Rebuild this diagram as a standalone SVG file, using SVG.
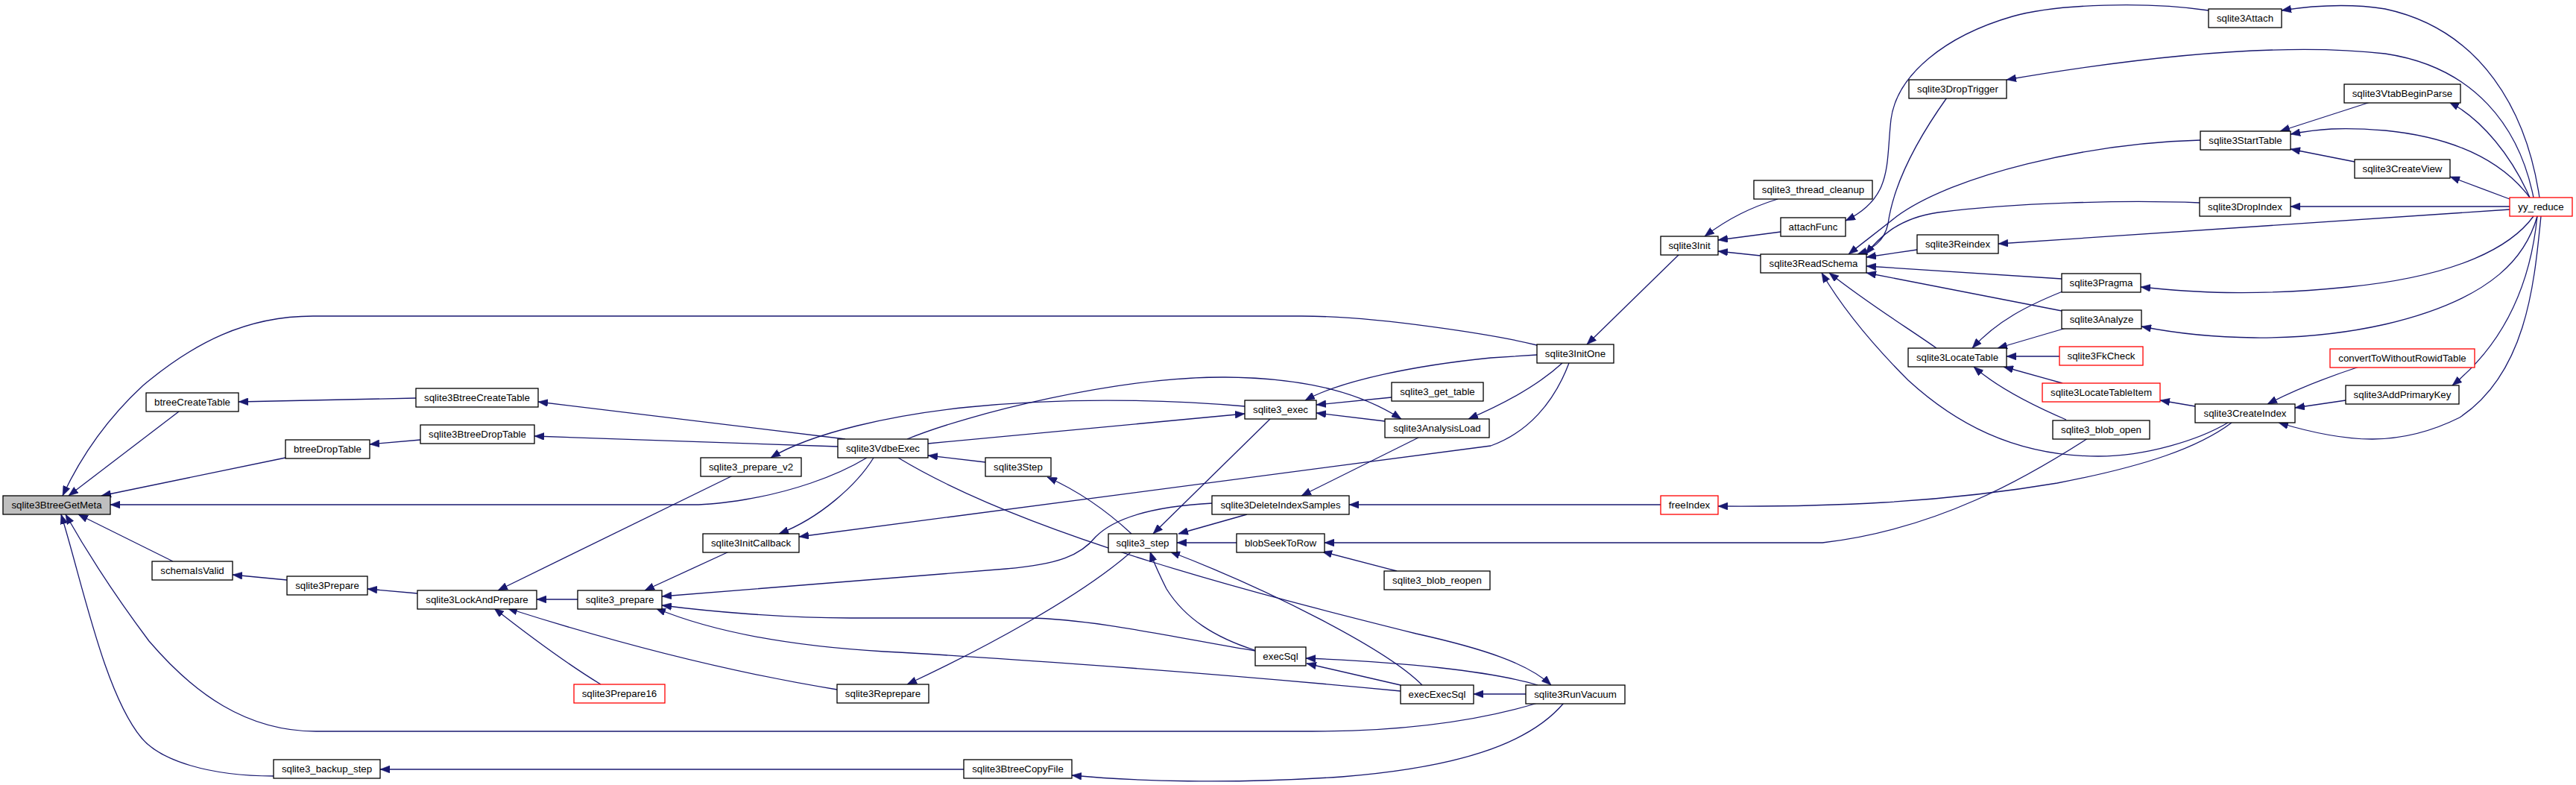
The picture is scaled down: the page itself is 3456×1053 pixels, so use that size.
<svg xmlns="http://www.w3.org/2000/svg" width="3456" height="1053" viewBox="0 0 3456 1053">
<style>
.n rect{fill:#fff;stroke:#000;stroke-width:1.3}
.n.r rect{stroke:#f00}
.n.g rect{fill:#bfbfbf}
.n text{font-family:'Liberation Sans',Arial,sans-serif;font-size:13.3px;text-anchor:middle;fill:#000}
.e path{fill:none;stroke:#191970;stroke-width:1.3;marker-end:url(#a)}
</style>
<defs>
<marker id="a" markerUnits="userSpaceOnUse" markerWidth="13" markerHeight="10" viewBox="0 0 13 10" refX="13" refY="5" orient="auto"><path d="M0,0L13,5L0,10z" fill="#191970" stroke="#191970" stroke-width="0.5"/></marker>
</defs>
<rect width="3456" height="1053" fill="#fff"/>
<g id="edges" class="e">
<path d="M2062,463 C2010,450 1850,424 1746,424 L420,424 C330,424 260,460 192,517 C140,565 105,620 84,665"/>
<path d="M240,552 L92,665"/>
<path d="M383,614 L136,665"/>
<path d="M1163,614 C1120,640 1060,660 1000,670 C970,675 950,677 930,677 L148,677"/>
<path d="M232,753 L105,690"/>
<path d="M2063,943 C2000,962 1900,981 1760,981 L424,981 C330,981 260,930 200,860 C140,780 105,720 88,690"/>
<path d="M367,1041 C280,1041 215,1020 190,990 C140,930 110,780 82,690"/>
<path d="M558,534 L320,539"/>
<path d="M1134,589 L722,539"/>
<path d="M564,590 L496,596"/>
<path d="M1124,599 L717,585"/>
<path d="M385,778 L312,771"/>
<path d="M560,796 L493,790"/>
<path d="M775,804 L720,804"/>
<path d="M983,638 L668,792"/>
<path d="M806,918 C760,890 700,845 663,816"/>
<path d="M1123,925 C1000,905 850,870 681,816"/>
<path d="M978,740 L865,792"/>
<path d="M1627,675 C1530,680 1490,700 1470,720 C1450,745 1420,757 1350,763 L888,800"/>
<path d="M1684,873 C1600,860 1470,830 1380,829 L1141,829 C1050,829 950,820 888,812"/>
<path d="M1879,927 C1600,900 1300,880 1186,874 C1050,866 950,845 880,816"/>
<path d="M2105,487 C2085,540 2050,580 2000,598 L1072,720"/>
<path d="M2062,476 L2000,480 C1900,490 1800,510 1751,537"/>
<path d="M2096,487 C2060,520 2010,545 1970,562"/>
<path d="M1867,533 L1766,543"/>
<path d="M1858,565 L1766,554"/>
<path d="M1245,595 L1670,555"/>
<path d="M1670,545 C1550,535 1420,534 1300,546 C1200,556 1090,580 1034,614"/>
<path d="M1217,589 C1300,555 1500,505 1644,506 C1760,507 1830,530 1880,562"/>
<path d="M2253,341 L2129,462"/>
<path d="M1704,562 L1547,716"/>
<path d="M1673,690 L1581,716"/>
<path d="M1903,587 L1746,665"/>
<path d="M2228,677 L1810,677"/>
<path d="M1518,716 C1490,690 1450,660 1405,640"/>
<path d="M1659,728 L1579,728"/>
<path d="M1683,872 C1630,855 1590,830 1565,790 C1555,770 1548,755 1543,740"/>
<path d="M1908,919 C1860,870 1700,790 1570,740"/>
<path d="M1518,740 C1450,800 1320,870 1217,918"/>
<path d="M1874,766 L1774,740"/>
<path d="M2801,588 C2720,640 2600,710 2445,728 L1777,728"/>
<path d="M1879,919 L1753,890"/>
<path d="M2063,919 C2000,900 1880,888 1752,883"/>
<path d="M2047,931 L1977,931"/>
<path d="M2098,943 C2050,1000 1950,1030 1800,1042 C1650,1052 1520,1048 1438,1040"/>
<path d="M1205,614 C1380,720 1700,800 1900,850 C1990,870 2050,890 2081,919"/>
<path d="M1293,1032 L510,1032"/>
<path d="M2385,267 C2350,278 2320,292 2287,317"/>
<path d="M2389,311 L2305,322"/>
<path d="M2362,343 L2305,337"/>
<path d="M2963,14 C2880,2 2760,5 2700,22 C2610,48 2545,100 2537,160 C2530,220 2540,265 2476,296"/>
<path d="M3407,265 C3390,150 3330,40 3200,12 C3150,4 3100,8 3061,14"/>
<path d="M2612,131 C2570,190 2540,250 2533,300 C2528,325 2510,335 2492,341"/>
<path d="M3399,265 C3380,170 3320,90 3200,72 C3050,55 2850,80 2692,107"/>
<path d="M2952,188 C2800,192 2620,235 2545,290 C2520,310 2500,325 2480,341"/>
<path d="M2951,272 C2850,268 2700,272 2600,285 C2545,293 2520,320 2503,341"/>
<path d="M2572,335 L2504,345"/>
<path d="M2766,374 L2504,357"/>
<path d="M2766,417 L2504,366"/>
<path d="M2598,467 C2560,440 2510,410 2454,366"/>
<path d="M2989,567 C2950,590 2880,612 2815,612 C2700,612 2620,565 2560,510 C2510,460 2470,410 2444,366"/>
<path d="M2767,391 C2720,410 2680,430 2646,467"/>
<path d="M2772,440 L2680,467"/>
<path d="M2763,478 L2692,478"/>
<path d="M2767,514 L2688,492"/>
<path d="M2772,563 C2730,545 2680,520 2648,492"/>
<path d="M2945,545 L2898,537"/>
<path d="M2994,567 C2950,600 2880,625 2760,648 C2600,675 2450,680 2305,679"/>
<path d="M3399,290 C3370,330 3300,370 3150,385 C3020,398 2940,392 2872,385"/>
<path d="M3404,290 C3390,340 3350,400 3200,435 C3080,462 2960,455 2873,438"/>
<path d="M3409,290 C3400,380 3390,500 3300,560 C3220,600 3150,595 3057,567"/>
<path d="M3404,290 C3395,380 3360,460 3290,517"/>
<path d="M3147,537 L3079,547"/>
<path d="M3165,492 C3110,510 3075,525 3042,542"/>
<path d="M3180,137 L3059,176"/>
<path d="M3394,265 C3370,210 3330,160 3286,137"/>
<path d="M3394,265 C3360,220 3300,185 3200,175 C3140,170 3110,173 3073,180"/>
<path d="M3159,217 L3073,200"/>
<path d="M3367,267 L3287,237"/>
<path d="M3367,277 L3073,277"/>
<path d="M3367,281 L2681,327"/>
<path d="M1172,614 C1150,650 1100,695 1045,716"/>
<path d="M1322,620 L1245,611"/>
</g>
<g id="n1" class="n g"><rect x="4" y="665" width="144" height="25"/><text x="76" y="682">sqlite3BtreeGetMeta</text></g>
<g id="n2" class="n"><rect x="196" y="527" width="124" height="25"/><text x="258" y="544">btreeCreateTable</text></g>
<g id="n3" class="n"><rect x="558" y="521" width="164" height="25"/><text x="640" y="538">sqlite3BtreeCreateTable</text></g>
<g id="n4" class="n"><rect x="383" y="590" width="113" height="25"/><text x="439.5" y="607">btreeDropTable</text></g>
<g id="n5" class="n"><rect x="564" y="570" width="153" height="25"/><text x="640.5" y="587">sqlite3BtreeDropTable</text></g>
<g id="n6" class="n"><rect x="204" y="753" width="108" height="25"/><text x="258" y="770">schemaIsValid</text></g>
<g id="n7" class="n"><rect x="385" y="773" width="108" height="25"/><text x="439" y="790">sqlite3Prepare</text></g>
<g id="n8" class="n"><rect x="560" y="792" width="160" height="25"/><text x="640" y="809">sqlite3LockAndPrepare</text></g>
<g id="n9" class="n"><rect x="367" y="1019" width="143" height="25"/><text x="438.5" y="1036">sqlite3_backup_step</text></g>
<g id="n10" class="n"><rect x="775" y="792" width="113" height="25"/><text x="831.5" y="809">sqlite3_prepare</text></g>
<g id="n11" class="n"><rect x="943" y="716" width="129" height="25"/><text x="1007.5" y="733">sqlite3InitCallback</text></g>
<g id="n12" class="n r"><rect x="770" y="918" width="122" height="25"/><text x="831" y="935">sqlite3Prepare16</text></g>
<g id="n13" class="n"><rect x="1123" y="918" width="123" height="25"/><text x="1184.5" y="935">sqlite3Reprepare</text></g>
<g id="n14" class="n"><rect x="1293" y="1019" width="145" height="25"/><text x="1365.5" y="1036">sqlite3BtreeCopyFile</text></g>
<g id="n15" class="n"><rect x="940" y="614" width="135" height="25"/><text x="1007.5" y="631">sqlite3_prepare_v2</text></g>
<g id="n16" class="n"><rect x="1124" y="589" width="121" height="25"/><text x="1184.5" y="606">sqlite3VdbeExec</text></g>
<g id="n17" class="n"><rect x="1322" y="614" width="88" height="25"/><text x="1366" y="631">sqlite3Step</text></g>
<g id="n18" class="n"><rect x="1670" y="537" width="96" height="25"/><text x="1718" y="554">sqlite3_exec</text></g>
<g id="n19" class="n"><rect x="1867" y="513" width="123" height="25"/><text x="1928.5" y="530">sqlite3_get_table</text></g>
<g id="n20" class="n"><rect x="1858" y="562" width="140" height="25"/><text x="1928" y="579">sqlite3AnalysisLoad</text></g>
<g id="n21" class="n"><rect x="1626" y="665" width="184" height="25"/><text x="1718" y="682">sqlite3DeleteIndexSamples</text></g>
<g id="n22" class="n"><rect x="1487" y="716" width="92" height="25"/><text x="1533" y="733">sqlite3_step</text></g>
<g id="n23" class="n"><rect x="1659" y="716" width="118" height="25"/><text x="1718" y="733">blobSeekToRow</text></g>
<g id="n24" class="n"><rect x="1857" y="766" width="142" height="25"/><text x="1928" y="783">sqlite3_blob_reopen</text></g>
<g id="n25" class="n"><rect x="1684" y="868" width="68" height="25"/><text x="1718" y="885">execSql</text></g>
<g id="n26" class="n"><rect x="1879" y="919" width="98" height="25"/><text x="1928" y="936">execExecSql</text></g>
<g id="n27" class="n"><rect x="2047" y="919" width="133" height="25"/><text x="2113.5" y="936">sqlite3RunVacuum</text></g>
<g id="n28" class="n"><rect x="2062" y="462" width="103" height="25"/><text x="2113.5" y="479">sqlite3InitOne</text></g>
<g id="n29" class="n r"><rect x="2228" y="665" width="77" height="25"/><text x="2266.5" y="682">freeIndex</text></g>
<g id="n30" class="n"><rect x="2228" y="317" width="77" height="25"/><text x="2266.5" y="334">sqlite3Init</text></g>
<g id="n31" class="n"><rect x="2353" y="242" width="159" height="25"/><text x="2432.5" y="259">sqlite3_thread_cleanup</text></g>
<g id="n32" class="n"><rect x="2389" y="292" width="87" height="25"/><text x="2432.5" y="309">attachFunc</text></g>
<g id="n33" class="n"><rect x="2362" y="341" width="142" height="25"/><text x="2433" y="358">sqlite3ReadSchema</text></g>
<g id="n34" class="n"><rect x="2561" y="107" width="131" height="25"/><text x="2626.5" y="124">sqlite3DropTrigger</text></g>
<g id="n35" class="n"><rect x="2572" y="315" width="109" height="25"/><text x="2626.5" y="332">sqlite3Reindex</text></g>
<g id="n36" class="n"><rect x="2560" y="467" width="132" height="25"/><text x="2626" y="484">sqlite3LocateTable</text></g>
<g id="n37" class="n"><rect x="2963" y="12" width="98" height="25"/><text x="3012" y="29">sqlite3Attach</text></g>
<g id="n38" class="n"><rect x="3145" y="113" width="156" height="25"/><text x="3223" y="130">sqlite3VtabBeginParse</text></g>
<g id="n39" class="n"><rect x="2952" y="176" width="121" height="25"/><text x="3012.5" y="193">sqlite3StartTable</text></g>
<g id="n40" class="n"><rect x="3159" y="214" width="128" height="25"/><text x="3223" y="231">sqlite3CreateView</text></g>
<g id="n41" class="n"><rect x="2951" y="265" width="122" height="25"/><text x="3012" y="282">sqlite3DropIndex</text></g>
<g id="n42" class="n r"><rect x="3367" y="265" width="84" height="25"/><text x="3409" y="282">yy_reduce</text></g>
<g id="n43" class="n"><rect x="2766" y="367" width="106" height="25"/><text x="2819" y="384">sqlite3Pragma</text></g>
<g id="n44" class="n"><rect x="2766" y="416" width="107" height="25"/><text x="2819.5" y="433">sqlite3Analyze</text></g>
<g id="n45" class="n r"><rect x="2763" y="465" width="112" height="25"/><text x="2819" y="482">sqlite3FkCheck</text></g>
<g id="n46" class="n r"><rect x="2740" y="514" width="158" height="25"/><text x="2819" y="531">sqlite3LocateTableItem</text></g>
<g id="n47" class="n"><rect x="2754" y="564" width="130" height="25"/><text x="2819" y="581">sqlite3_blob_open</text></g>
<g id="n48" class="n"><rect x="2945" y="542" width="134" height="25"/><text x="3012" y="559">sqlite3CreateIndex</text></g>
<g id="n49" class="n r"><rect x="3126" y="468" width="194" height="25"/><text x="3223" y="485">convertToWithoutRowidTable</text></g>
<g id="n50" class="n"><rect x="3147" y="517" width="152" height="25"/><text x="3223" y="534">sqlite3AddPrimaryKey</text></g>
</svg>
